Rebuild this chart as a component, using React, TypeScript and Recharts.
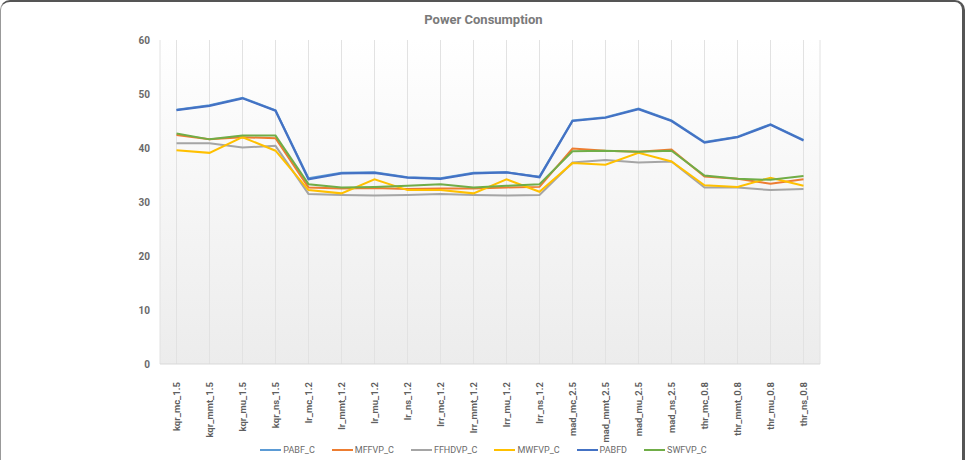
import { LineChart, Line, XAxis, YAxis, CartesianGrid } from 'recharts';

const categories = [
  'kqr_mc_1.5', 'kqr_mmt_1.5', 'kqr_mu_1.5', 'kqr_ns_1.5',
  'lr_mc_1.2', 'lr_mmt_1.2', 'lr_mu_1.2', 'lr_ns_1.2',
  'lrr_mc_1.2', 'lrr_mmt_1.2', 'lrr_mu_1.2', 'lrr_ns_1.2',
  'mad_mc_2.5', 'mad_mmt_2.5', 'mad_mu_2.5', 'mad_ns_2.5',
  'thr_mc_0.8', 'thr_mmt_0.8', 'thr_mu_0.8', 'thr_ns_0.8',
];

const pabfC = [47.1, 47.9, 49.3, 47.0, 34.4, 35.4, 35.5, 34.6, 34.4, 35.4, 35.5, 34.7, 45.1, 45.7, 47.3, 45.1, 41.1, 42.1, 44.4, 41.5];
const mffvpC = [42.4, 41.6, 42.0, 41.8, 32.7, 32.5, 32.6, 32.4, 32.5, 32.5, 32.7, 32.8, 39.9, 39.5, 39.3, 39.7, 34.7, 34.3, 33.4, 34.2];
const ffhdvpC = [40.9, 40.9, 40.1, 40.4, 31.5, 31.3, 31.2, 31.3, 31.5, 31.3, 31.2, 31.3, 37.3, 37.8, 37.3, 37.5, 32.7, 32.7, 32.2, 32.4];
const mwfvpC = [39.6, 39.1, 42.0, 39.5, 32.2, 31.6, 34.2, 32.2, 32.2, 31.6, 34.2, 31.9, 37.2, 36.9, 39.1, 37.5, 33.1, 32.8, 34.5, 33.0];
const pabfd = [47.0, 47.8, 49.2, 46.9, 34.2, 35.3, 35.4, 34.5, 34.3, 35.3, 35.5, 34.6, 45.0, 45.6, 47.2, 45.0, 41.0, 42.0, 44.3, 41.4];
const swfvpC = [42.7, 41.6, 42.3, 42.3, 33.3, 32.7, 32.8, 33.0, 33.3, 32.7, 33.0, 33.3, 39.4, 39.5, 39.3, 39.5, 34.9, 34.3, 34.1, 34.8];

const yTicks = [0, 10, 20, 30, 40, 50, 60];

const series = [
  { key: 'PABF_C', values: pabfC, color: '#5B9BD5', width: 2 },
  { key: 'MFFVP_C', values: mffvpC, color: '#ED7D31', width: 2 },
  { key: 'FFHDVP_C', values: ffhdvpC, color: '#A5A5A5', width: 2 },
  { key: 'MWFVP_C', values: mwfvpC, color: '#FFC000', width: 2 },
  { key: 'PABFD', values: pabfd, color: '#4472C4', width: 2.25 },
  { key: 'SWFVP_C', values: swfvpC, color: '#70AD47', width: 2 },
];

const data = categories.map((name, i) => {
  const row: Record<string, string | number> = { name };
  series.forEach((s) => {
    row[s.key] = s.values[i];
  });
  return row;
});

const FONT = 'Roboto, "Liberation Sans", sans-serif';

// Vertical category labels, read bottom-to-top
function CategoryTick({ x, y, payload }: any) {
  return (
    <text
      transform={`translate(${x + 3},${y + 10}) rotate(-90)`}
      textAnchor="end"
      fontSize={9.5}
      fontWeight={700}
      fill="#5f5f5f"
      fontFamily={FONT}
    >
      {payload.value}
    </text>
  );
}

export default function App() {
  return (
    <div
      style={{
        position: 'absolute',
        left: 0,
        top: 0,
        width: 965,
        height: 460,
        boxSizing: 'border-box',
        borderTop: '2px solid #555',
        borderRight: '3px solid #555',
        borderLeft: '1px solid #999',
        borderRadius: '10px 10px 0 0',
        background: '#fff',
        fontFamily: FONT,
        overflow: 'hidden',
      }}
    >
      <div
        style={{
          position: 'absolute',
          top: 10,
          left: 0,
          width: 965,
          textAlign: 'center',
          fontSize: 13,
          fontWeight: 700,
          color: '#7a7a7a',
        }}
      >
        Power Consumption
      </div>
      <div style={{ position: 'absolute', left: -1, top: -2 }}>
        <LineChart
          width={965}
          height={460}
          data={data}
          margin={{ top: 40, right: 145, bottom: 6, left: 0 }}
        >
          <defs>
            <linearGradient id="plotBg" x1="0" y1="0" x2="0" y2="1">
              <stop offset="0%" stopColor="#ffffff" />
              <stop offset="100%" stopColor="#ececec" />
            </linearGradient>
          </defs>
          <CartesianGrid horizontal={false} stroke="#e2e2e2" fill="url(#plotBg)" />
          <XAxis
            dataKey="name"
            interval={0}
            height={90}
            padding={{ left: 16.5, right: 16.5 }}
            axisLine={{ stroke: '#d9d9d9' }}
            tickLine={false}
            tick={<CategoryTick />}
          />
          <YAxis
            width={160}
            domain={[0, 60]}
            ticks={yTicks}
            axisLine={false}
            tickLine={false}
            tickMargin={4}
            tick={{ fontSize: 10, fontWeight: 700, fill: '#6a6a6a', fontFamily: FONT }}
          />
          {series.map((s) => (
            <Line
              key={s.key}
              dataKey={s.key}
              type="linear"
              stroke={s.color}
              strokeWidth={s.width}
              dot={false}
              activeDot={false}
              isAnimationActive={false}
            />
          ))}
        </LineChart>
      </div>
      <div
        style={{
          position: 'absolute',
          top: 443,
          left: 0,
          width: 965,
          display: 'flex',
          justifyContent: 'center',
          gap: 17,
          fontSize: 9,
          color: '#6a6a6a',
        }}
      >
        {series.map((s) => (
          <div key={s.key} style={{ display: 'flex', alignItems: 'center' }}>
            <span style={{ display: 'inline-block', width: 21, height: 2, background: s.color, marginRight: 2 }} />
            <span>{s.key}</span>
          </div>
        ))}
      </div>
    </div>
  );
}
